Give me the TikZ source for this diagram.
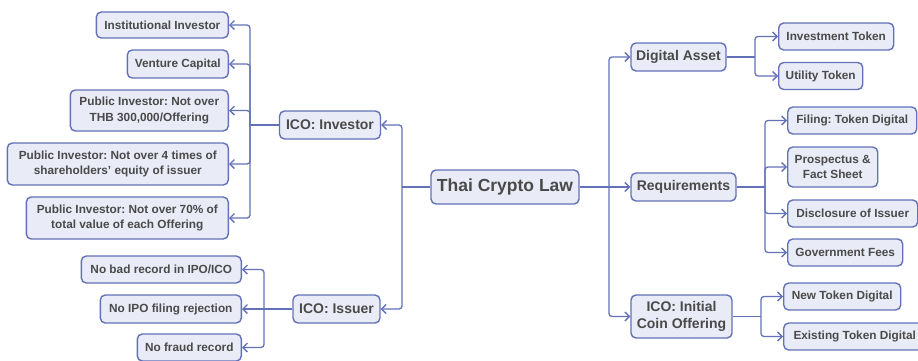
\documentclass[tikz,border=0pt]{standalone}
\usepackage{fontspec}
\setmainfont{Liberation Sans}
\usetikzlibrary{arrows.meta}
\frenchspacing
\definecolor{bord}{HTML}{6371B9}
\definecolor{boxfill}{HTML}{E9EBF7}
\definecolor{txt}{HTML}{4A4A4A}
\tikzset{
  box/.style={draw=bord, fill=boxfill, line width=1.4pt, rounded corners=5pt,
    text=txt, font=\fontsize{11.8}{15.5}\selectfont\bfseries, align=center,
    inner xsep=3pt, inner ysep=3pt, minimum height=27pt},
  midbox/.style={box, font=\fontsize{14}{17}\selectfont\bfseries, minimum height=28pt},
  rootbox/.style={box, font=\fontsize{17.5}{20}\selectfont\bfseries, minimum height=34pt},
  conn/.style={draw=bord, line width=1.3pt, rounded corners=3pt},
  arr/.style={conn, -{Straight Barb[length=4.5pt,width=9pt,line width=1.3pt]}},
}
\begin{document}
\begin{tikzpicture}[x=1pt,y=-1pt]
\useasboundingbox (0,0) rectangle (918,360);
% root
\node[rootbox, minimum width=148pt] (law) at (505,187) {Thai Crypto Law};
% middle
\node[midbox, minimum width=101pt] (inv) at (330,125) {ICO: Investor};
\node[midbox, minimum width=87pt] (iss) at (336.5,309) {ICO: Issuer};
\node[midbox, minimum width=95pt] (da) at (678.5,57) {Digital Asset};
\node[midbox, minimum width=105pt] (req) at (683.5,187) {Requirements};
\node[midbox, minimum width=101pt, minimum height=43pt] (ico) at (681.5,316.5) {ICO: Initial\\Coin Offering};
% investor children
\node[box, anchor=east, minimum width=132pt, minimum height=26pt] (i1) at (229,25) {Institutional Investor};
\node[box, anchor=east, minimum width=101pt, minimum height=28pt] (i2) at (229,64) {Venture Capital};
\node[box, anchor=east, minimum width=158pt, minimum height=41pt] (i3) at (229,110.5) {Public Investor: Not over\\THB 300,000/Offering};
\node[box, anchor=east, minimum width=221pt, minimum height=42pt] (i4) at (229,164) {Public Investor: Not over 4 times of\\shareholders{\char"27} equity of issuer};
\node[box, anchor=east, minimum width=202pt, minimum height=42pt] (i5) at (229,218) {Public Investor: Not over 70\% of\\total value of each Offering};
% issuer children
\node[box, anchor=east, minimum width=160pt] (s1) at (242,269.5) {No bad record in IPO/ICO};
\node[box, anchor=east, minimum width=141pt, minimum height=28pt] (s2) at (242,309) {No IPO filing rejection};
\node[box, anchor=east, minimum width=104pt] (s3) at (242,347.5) {No fraud record};
% digital asset children
\node[box, anchor=west, minimum width=115pt] (d1) at (778,36.5) {Investment Token};
\node[box, anchor=west, minimum width=84pt] (d2) at (778,76) {Utility Token};
% requirement children
\node[box, anchor=west, minimum width=129pt] (r1) at (787,120.5) {Filing: Token Digital};
\node[box, anchor=west, minimum width=90pt, minimum height=40pt] (r2) at (787,167) {Prospectus \&\\Fact Sheet};
\node[box, anchor=west, minimum width=130pt] (r3) at (787,213.5) {Disclosure of Issuer};
\node[box, anchor=west, minimum width=115pt] (r4) at (787,252.5) {Government Fees};
% ico children
\node[box, anchor=west, minimum width=117pt] (c1) at (783,296.5) {New Token Digital};
\node[box, anchor=west, minimum width=142pt] (c2) at (783,336.5) {Existing Token Digital};
% bus coordinates
\coordinate (lb) at (402,187);
\coordinate (rb) at (609,187);
\coordinate (ib) at (250,125);
\coordinate (sb) at (264,309);
\coordinate (db) at (755,57);
\coordinate (qb) at (765,187);
\coordinate (cb) at (761,316.5);
% root connectors
\draw[conn] (law.west) -- (lb);
\draw[arr] (lb) |- (inv.east);
\draw[arr] (lb) |- (iss.east);
\draw[arr] (law.east) -- (req.west);
\draw[arr] (rb) |- (da.west);
\draw[arr] (rb) |- (ico.west);
% investor
\draw[conn] (inv.west) -- (ib);
\foreach \n in {i1,i2,i3,i4,i5} \draw[arr] (ib) |- (\n.east);
% issuer
\draw[arr] (iss.west) -- (s2.east);
\draw[arr] (sb) |- (s1.east);
\draw[arr] (sb) |- (s3.east);
% digital asset
\draw[conn] (da.east) -- (db);
\draw[arr] (db) |- (d1.west);
\draw[arr] (db) |- (d2.west);
% requirements
\draw[conn] (req.east) -- (qb);
\foreach \n in {r1,r2,r3,r4} \draw[arr] (qb) |- (\n.west);
% ico
\draw[conn] (ico.east) -- (cb);
\draw[arr] (cb) |- (c1.west);
\draw[arr] (cb) |- (c2.west);
\end{tikzpicture}
\end{document}
